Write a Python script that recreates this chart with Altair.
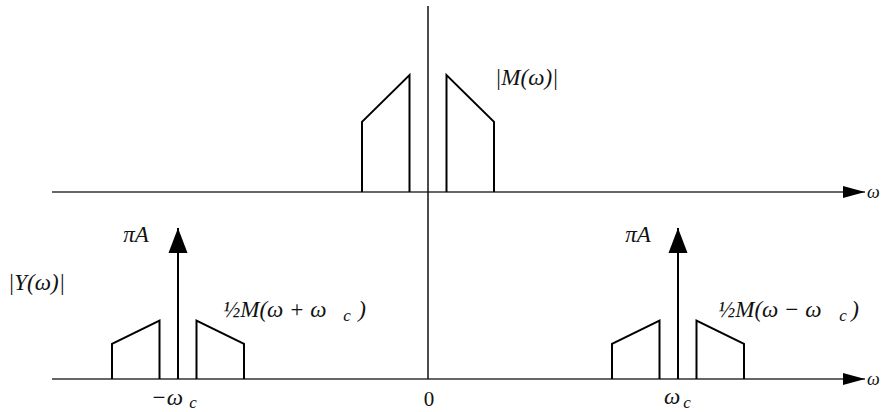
import altair as alt
import pandas as pd

# Spectrum parameters (frequency in units where the carrier sits at 5)
omega_c = 5.0
band_edges = [0.37, 1.32]        # inner / outer |ω| edge of the message band
m_at_edges = [1.0, 0.6]          # |M| at the inner / outer band edge
half_gain = 0.5                  # ½M(ω ± ω_c)
carrier_amp = 1.29               # height of the πA impulse

# Vertical placement of the two plots and axis extents
top_base = 1.88
bottom_base = 0.282
axis_start = -7.52
axis_tip = 8.74
vert_top = 3.47

X_DOMAIN = [-8.56, 9.06]
Y_DOMAIN = [0, 3.5214]
W, H = 881, 412


def band_pieces(center, gain, base, tag):
    """Outline of the two sidebands around `center` as open trapezoids."""
    rows = []
    lo, hi = band_edges
    m_in, m_out = m_at_edges
    left = [(center - hi, 0), (center - hi, m_out), (center - lo, m_in), (center - lo, 0)]
    right = [(center + lo, 0), (center + lo, m_in), (center + hi, m_out), (center + hi, 0)]
    for side, pts in (("L", left), ("R", right)):
        for k, (w, m) in enumerate(pts):
            rows.append({"piece": f"{tag}{side}", "k": k, "w": w, "u": base + gain * m})
    return rows


rows = []
rows += band_pieces(0.0, 1.0, top_base, "top")
rows += band_pieces(-omega_c, half_gain, bottom_base, "neg")
rows += band_pieces(omega_c, half_gain, bottom_base, "pos")
bands = pd.DataFrame(rows)

xs = alt.Scale(domain=X_DOMAIN, nice=False, zero=False)
ys = alt.Scale(domain=Y_DOMAIN, nice=False, zero=False)

band_lines = alt.Chart(bands).mark_line(color="#000", strokeWidth=2).encode(
    x=alt.X("w:Q", scale=xs, axis=None),
    y=alt.Y("u:Q", scale=ys, axis=None),
    detail="piece:N",
    order="k:Q",
)

# Horizontal ω axes and the vertical axis
h_axes = pd.DataFrame({"w": [axis_start] * 2, "w2": [axis_tip] * 2, "u": [top_base, bottom_base]})
h_rules = alt.Chart(h_axes).mark_rule(color="#333", strokeWidth=1.5).encode(
    x=alt.X("w:Q", scale=xs, axis=None), x2="w2", y=alt.Y("u:Q", scale=ys, axis=None)
)
h_heads = alt.Chart(h_axes).mark_point(
    shape="M0,0L-2,-0.55L-2,0.55Z", size=484, filled=True, color="#000", opacity=1
).encode(x=alt.X("w2:Q", scale=xs, axis=None), y=alt.Y("u:Q", scale=ys, axis=None))

v_axis = pd.DataFrame({"w": [0.0], "u": [bottom_base], "u2": [vert_top]})
v_rule = alt.Chart(v_axis).mark_rule(color="#111", strokeWidth=1.5).encode(
    x=alt.X("w:Q", scale=xs, axis=None), y=alt.Y("u:Q", scale=ys, axis=None), y2="u2"
)

# Carrier impulses πA at ±ω_c
impulses = pd.DataFrame({
    "w": [-omega_c, omega_c],
    "u": [bottom_base] * 2,
    "u2": [bottom_base + carrier_amp] * 2,
})
imp_rules = alt.Chart(impulses).mark_rule(color="#000", strokeWidth=2).encode(
    x=alt.X("w:Q", scale=xs, axis=None), y=alt.Y("u:Q", scale=ys, axis=None), y2="u2"
)
imp_heads = alt.Chart(impulses).mark_point(
    shape="M0,0L0.76,2L-0.76,2Z", size=625, filled=True, color="#000", opacity=1
).encode(x=alt.X("w:Q", scale=xs, axis=None), y=alt.Y("u2:Q", scale=ys, axis=None))

FONT = "Liberation Serif"

left_labels = pd.DataFrame({
    "t": ["|M(ω)|", "|Y(ω)|", "½M(ω + ω", "½M(ω − ω"],
    "w": [1.34, -8.4, -4.1, 5.8],
    "u": [2.855, 1.103, 0.872, 0.872],
})
axis_labels = pd.DataFrame({
    "t": ["ω", "ω"],
    "w": [8.78, 8.78],
    "u": [1.872, 0.2735],
})
center_labels = pd.DataFrame({
    "t": ["πA", "πA", "−ω", "ω", ")", ")"],
    "w": [-5.84, 4.2, -5.22, 4.88, -1.32, 8.54],
    "u": [1.513, 1.513, 0.12, 0.128, 0.872, 0.872],
})
sub_labels = pd.DataFrame({
    "t": ["c", "c", "c", "c"],
    "w": [-1.62, 8.3, -4.7, 5.18],
    "u": [0.82, 0.82, 0.08, 0.08],
})
zero_label = pd.DataFrame({"t": ["0"], "w": [0.02], "u": [0.105]})


def text_layer(df, align, size, style):
    return alt.Chart(df).mark_text(
        align=align, baseline="middle", font=FONT, fontSize=size, fontStyle=style, color="#111"
    ).encode(
        x=alt.X("w:Q", scale=xs, axis=None),
        y=alt.Y("u:Q", scale=ys, axis=None),
        text="t:N",
    )


chart = alt.layer(
    h_rules,
    v_rule,
    band_lines,
    imp_rules,
    imp_heads,
    h_heads,
    text_layer(left_labels, "left", 23, "italic"),
    text_layer(axis_labels, "left", 18, "italic"),
    text_layer(center_labels, "center", 23, "italic"),
    text_layer(sub_labels, "center", 17, "italic"),
    text_layer(zero_label, "center", 21, "normal"),
).properties(
    width=W, height=H, padding=0, autosize=alt.AutoSizeParams(type="none"), background="white"
).configure_view(stroke=None)

chart.save("out.html", embed_options={"renderer": "svg", "actions": False})
